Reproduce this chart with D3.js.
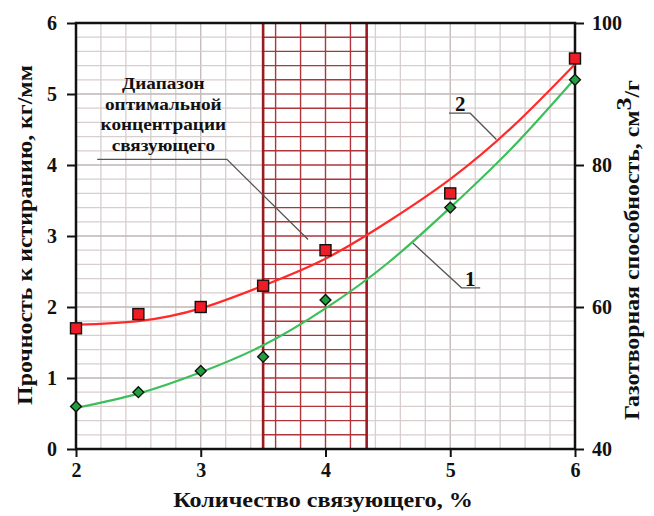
<!DOCTYPE html>
<html>
<head>
<meta charset="utf-8">
<script src="https://cdn.jsdelivr.net/npm/d3@7"></script>
<style>
  body { margin: 0; background: #fff; }
  svg text { font-family: "Liberation Serif", "Times New Roman", serif; font-weight: bold; fill: #111; }
</style>
</head>
<body>
<svg id="chart"></svg>
<script>
var width = 654;
var height = 516;

// measured points, % binder
var binderPct = [2, 2.5, 3, 3.5, 4, 5, 6];
// curve 1 - strength, kg/mm (left axis)
var strength = [0.6, 0.8, 1.1, 1.3, 2.1, 3.4, 5.2];
// curve 2 - gas capacity, cm3/g (right axis)
var gasCapacity = [57, 59, 60, 63, 68, 76, 95];

// fitted trend lines
var trendX = [2, 2.5, 3, 3.5, 4, 4.5, 5, 5.5, 6];
var strengthTrend = [0.58, 0.78, 1.08, 1.46, 1.98, 2.62, 3.4, 4.25, 5.22];
var gasTrend = [57.5, 58, 59.8, 63, 66.8, 72, 78, 85.4, 94.2];

// optimal binder range
var optRange = [3.5, 4.33];

var xTicks = [2, 3, 4, 5, 6];
var leftTicks = [0, 1, 2, 3, 4, 5, 6];
var rightTicks = [40, 60, 80, 100];

var svg = d3.select('#chart')
    .attr('width', width)
    .attr('height', height);

var x = d3.scaleLinear().domain([2, 6]).range([76, 575]);
var yL = d3.scaleLinear().domain([0, 6]).range([449, 23]);
var yR = d3.scaleLinear().domain([40, 100]).range([449, 23]);

// grid every 0.2
var gridX = d3.range(2, 6.001, 0.2);
var gridY = d3.range(0, 6.001, 0.2);
var gridG = svg.append('g');

gridG.selectAll('line.gx')
    .data(gridX)
    .enter().append('line')
    .attr('x1', d => x(d)).attr('x2', d => x(d))
    .attr('y1', yL(0)).attr('y2', yL(6))
    .attr('stroke', d => Math.abs(d - Math.round(d)) < 1e-6 ? '#c0b6b6' : '#d8cece')
    .attr('stroke-width', 1.3);
gridG.selectAll('line.gy')
    .data(gridY)
    .enter().append('line')
    .attr('x1', x(2)).attr('x2', x(6))
    .attr('y1', d => yL(d)).attr('y2', d => yL(d))
    .attr('stroke', d => Math.abs(d - Math.round(d)) < 1e-6 ? '#c0b6b6' : '#d8cece')
    .attr('stroke-width', 1.3);

// optimal range hatch
var rangeG = svg.append('g');
rangeG.append('rect')
    .attr('x', x(optRange[0])).attr('width', x(optRange[1]) - x(optRange[0]))
    .attr('y', yL(6)).attr('height', yL(0) - yL(6))
    .attr('fill', '#fff');
rangeG.selectAll('line.ry')
    .data(gridY)
    .enter().append('line')
    .attr('x1', x(optRange[0])).attr('x2', x(optRange[1]))
    .attr('y1', d => yL(d)).attr('y2', d => yL(d))
    .attr('stroke', '#b0353a').attr('stroke-width', 1.4);
rangeG.selectAll('line.rx')
    .data(gridX.filter(d => d > optRange[0] && d < optRange[1]))
    .enter().append('line')
    .attr('x1', d => x(d)).attr('x2', d => x(d))
    .attr('y1', yL(0)).attr('y2', yL(6))
    .attr('stroke', '#b0353a').attr('stroke-width', 1.4);
rangeG.selectAll('line.rb')
    .data(optRange)
    .enter().append('line')
    .attr('x1', d => x(d)).attr('x2', d => x(d))
    .attr('y1', yL(0)).attr('y2', yL(6))
    .attr('stroke', '#9a1c22').attr('stroke-width', 2.6);

// frame
svg.append('rect')
    .attr('x', x(2)).attr('y', yL(6))
    .attr('width', x(6) - x(2)).attr('height', yL(0) - yL(6))
    .attr('fill', 'none').attr('stroke', '#111').attr('stroke-width', 2.5);

// axes
function styleAxis(g) {
    g.select('.domain').remove();
    g.selectAll('.tick line').attr('stroke', '#111').attr('stroke-width', 2);
    g.selectAll('.tick text').attr('font-size', 20).attr('fill', '#111')
        .attr('font-family', '"Liberation Serif", serif').attr('font-weight', 'bold');
}
svg.append('g')
    .attr('transform', `translate(0,${yL(0)})`)
    .call(d3.axisBottom(x).tickValues(xTicks).tickFormat(d3.format('d')).tickSize(8).tickPadding(6))
    .call(styleAxis);
svg.append('g')
    .attr('transform', `translate(${x(2)},0)`)
    .call(d3.axisLeft(yL).tickValues(leftTicks).tickFormat(d3.format('d')).tickSize(9).tickPadding(10))
    .call(styleAxis);
svg.append('g')
    .attr('transform', `translate(${x(6)},0)`)
    .call(d3.axisRight(yR).tickValues(rightTicks).tickFormat(d3.format('d')).tickSize(9).tickPadding(8))
    .call(styleAxis);

// trend lines
var line1 = d3.line().curve(d3.curveNatural)
    .x((d, i) => x(trendX[i])).y(d => yL(d));
var line2 = d3.line().curve(d3.curveNatural)
    .x((d, i) => x(trendX[i])).y(d => yR(d));

svg.append('path').datum(strengthTrend)
    .attr('d', line1).attr('fill', 'none')
    .attr('stroke', '#3cbf5a').attr('stroke-width', 2.2);
svg.append('path').datum(gasTrend)
    .attr('d', line2).attr('fill', 'none')
    .attr('stroke', '#ff2a2a').attr('stroke-width', 2.2);

// markers
svg.append('g').selectAll('path')
    .data(binderPct)
    .enter().append('path')
    .attr('d', d3.symbol().type(d3.symbolDiamond2).size(75))
    .attr('transform', (d, i) => `translate(${x(d)},${yL(strength[i])})`)
    .attr('fill', '#22a040').attr('stroke', '#111').attr('stroke-width', 1.4);
svg.append('g').selectAll('rect')
    .data(binderPct)
    .enter().append('rect')
    .attr('x', d => x(d) - 5.5).attr('width', 11)
    .attr('y', (d, i) => yR(gasCapacity[i]) - 5.5).attr('height', 11)
    .attr('fill', '#ee1c24').attr('stroke', '#111').attr('stroke-width', 1.4);

// stretch text horizontally (along its own direction) to a target length
function stretch(sel, cx, cy, angle, target) {
    var w = sel.node().getBBox().width;
    sel.attr('transform', `translate(${cx},${cy}) rotate(${angle}) scale(${target / w},1)`);
}

// annotations
var noteG = svg.append('g');
var noteLines = ['Диапазон', 'оптимальной', 'концентрации', 'связующего'];
noteG.selectAll('text')
    .data(noteLines)
    .enter().append('text')
    .attr('x', 0).attr('y', 0)
    .attr('text-anchor', 'middle')
    .attr('font-size', 17.5)
    .text(d => d)
    .each(function(d, i) {
        var t = d3.select(this);
        var w = this.getBBox().width;
        t.attr('transform', `translate(${x(2.7)},${89 + i * 20.5}) scale(1.1,1)`);
    });
noteG.append('polyline')
    .attr('points', [[x(2.17), yL(4.08)], [x(3.21), yL(4.08)], [x(3.86), yL(2.95)]].join(' '))
    .attr('fill', 'none').attr('stroke', '#555').attr('stroke-width', 1.3);

// curve labels
noteG.append('text').attr('x', x(5.08)).attr('y', yL(4.76)).attr('text-anchor', 'middle')
    .attr('font-size', 21).text('2');
noteG.append('polyline')
    .attr('points', [[x(4.99), yL(4.73)], [x(5.16), yL(4.73)], [x(5.37), yL(4.36)]].join(' '))
    .attr('fill', 'none').attr('stroke', '#555').attr('stroke-width', 1.3);
noteG.append('text').attr('x', x(5.16)).attr('y', yL(2.3)).attr('text-anchor', 'middle')
    .attr('font-size', 21).text('1');
noteG.append('polyline')
    .attr('points', [[x(4.70), yL(2.9)], [x(5.09), yL(2.27)], [x(5.24), yL(2.27)]].join(' '))
    .attr('fill', 'none').attr('stroke', '#555').attr('stroke-width', 1.3);

// axis titles
var lt = svg.append('text')
    .attr('text-anchor', 'middle')
    .attr('font-size', 20)
    .text('Прочность к истиранию, кг/мм');
stretch(lt, 32, 235, -90, 340);

var rt = svg.append('text')
    .attr('text-anchor', 'middle')
    .attr('font-size', 20);
rt.append('tspan').text('Газотворная способность, см');
rt.append('tspan').attr('dy', -8).attr('font-size', 22).text('3');
rt.append('tspan').attr('dy', 8).text('/г');
stretch(rt, 639, 250, -90, 340);

var bt = svg.append('text')
    .attr('text-anchor', 'middle')
    .attr('font-size', 20.5)
    .text('Количество связующего, %');
stretch(bt, 323, 507, 0, 300);
</script>
</body>
</html>
